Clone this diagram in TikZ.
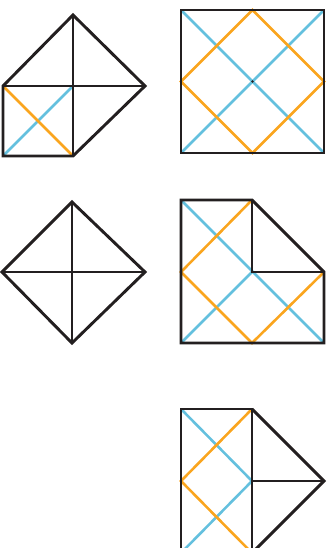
\documentclass[tikz,border=0pt]{standalone}
\definecolor{inkblack}{RGB}{35,31,32}
\definecolor{skyblue}{RGB}{100,192,222}
\definecolor{foldorange}{RGB}{250,165,30}
\tikzset{
  edge/.style={draw=inkblack, line width=2.5pt, line join=miter, line cap=butt},
  bluefold/.style={draw=skyblue, line width=2.2pt},
  orangefold/.style={draw=foldorange, line width=2.2pt},
}
\begin{document}
\begin{tikzpicture}[x=0.03cm, y=-0.03cm]
\useasboundingbox (0,0) rectangle (331,548);
\clip (0,0) rectangle (331,548);
% ---------- figure 1 (top left)
\coordinate (a1) at (73,15);
\coordinate (a2) at (3,86);
\coordinate (a3) at (145,86);
\coordinate (a4) at (73,86);
\coordinate (a5) at (3,156);
\coordinate (a6) at (73,156);
\draw[bluefold] (a5) -- (a4);
\draw[orangefold] (a2) -- (a6);
\draw[edge] (a2) -- (a1) -- (a3) -- (a6) -- (a5) -- cycle;
\draw[edge] (a1) -- (a6);
\draw[edge] (a2) -- (a3);
% ---------- figure 2 (top right)
\coordinate (b1) at (181,10);
\coordinate (b2) at (324,10);
\coordinate (b3) at (324,153);
\coordinate (b4) at (181,153);
\coordinate (b5) at (252.5,10);
\coordinate (b6) at (324,81.5);
\coordinate (b7) at (252.5,153);
\coordinate (b8) at (181,81.5);
\coordinate (bc) at (252.5,81.5);
\draw[bluefold] (b1) -- (b3);
\draw[bluefold] (b2) -- (b4);
\draw[orangefold] (b5) -- (b6) -- (b7) -- (b8) -- cycle;
\draw[edge] (b1) -- (b2) -- (b3) -- (b4) -- cycle;
\fill[inkblack] (bc) circle (1.3);
% ---------- figure 3 (middle left)
\coordinate (c1) at (72,202);
\coordinate (c2) at (2,272);
\coordinate (c3) at (145,272);
\coordinate (c4) at (72,343);
\draw[edge] (c1) -- (c3) -- (c4) -- (c2) -- cycle;
\draw[edge] (c1) -- (c4);
\draw[edge] (c2) -- (c3);
% ---------- figure 4 (middle right)
\coordinate (d1) at (181,200);
\coordinate (d2) at (252,200);
\coordinate (d3) at (252,272);
\coordinate (d4) at (324,272);
\coordinate (d5) at (324,343);
\coordinate (d6) at (181,343);
\coordinate (d7) at (181,272);
\coordinate (d8) at (252,343);
\draw[bluefold] (d1) -- (d5);
\draw[bluefold] (d6) -- (d3);
\draw[orangefold] (d2) -- (d7) -- (d8) -- (d4);
\draw[edge] (d1) -- (d2) -- (d4) -- (d5) -- (d6) -- cycle;
\draw[edge] (d2) -- (d3) -- (d4);
% ---------- figure 5 (bottom right, cut off)
\coordinate (e1) at (181,409);
\coordinate (e2) at (252,409);
\coordinate (e3) at (252,481);
\coordinate (e4) at (324,481);
\coordinate (e5) at (252,553);
\coordinate (e6) at (181,553);
\coordinate (e7) at (181,481);
\draw[bluefold] (e1) -- (e3) -- (e6);
\draw[orangefold] (e2) -- (e7) -- (e5);
\draw[edge] (e6) -- (e1) -- (e2) -- (e5);
\draw[edge] (e2) -- (e4) -- (e5);
\draw[edge] (e3) -- (e4);
\end{tikzpicture}
\end{document}
